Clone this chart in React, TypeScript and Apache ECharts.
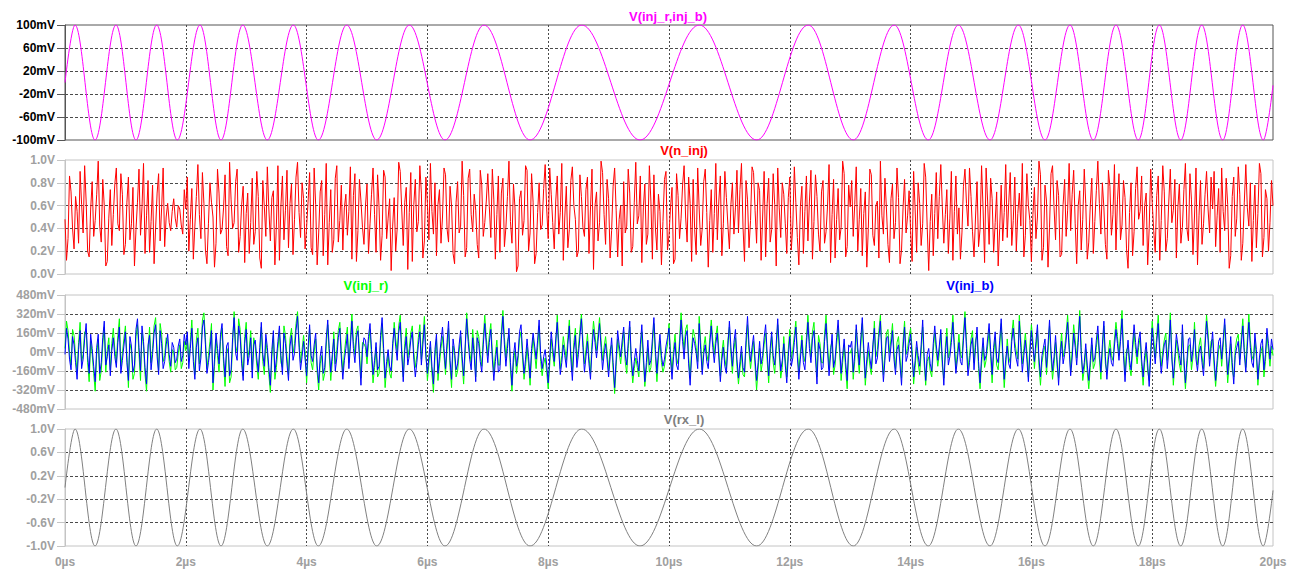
import React, { useEffect, useRef } from "react";
import * as echarts from "echarts";

// ---------- data ----------
// Times (µs) of the start, every peak/trough and the end of the chirped sine (same in V(inj_r,inj_b) and V(rx_l))
const extremaUs = [
  0, 0.166, 0.497, 0.844, 1.175, 1.518, 1.859, 2.235, 2.583, 2.942, 3.349, 3.78, 4.194, 4.664,
  5.161, 5.7, 6.291, 6.937, 7.699, 8.555, 9.52, 10.502, 11.452, 12.306, 13.051, 13.73, 14.293,
  14.79, 15.315, 15.783, 16.225, 16.639, 17.025, 17.401, 17.77, 18.118, 18.472, 18.82, 19.167,
  19.498, 19.839, 20,
];
// V(inj_r,inj_b) at those times, mV
const diffMv = [
  0, 100, -100, 100, -100, 100, -100, 100, -100, 100, -100, 100, -100, 100, -100, 100, -100, 100,
  -100, 100, -100, 100, -100, 100, -100, 100, -100, 100, -100, 100, -100, 100, -100, 100, -100, 100,
  -100, 100, -100, 100, -100, -5,
];
// V(rx_l) at those times, V
const rxV = [
  0, 1, -1, 1, -1, 1, -1, 1, -1, 1, -1, 1, -1, 1, -1, 1, -1, 1, -1, 1, -1, 1, -1, 1, -1, 1, -1, 1,
  -1, 1, -1, 1, -1, 1, -1, 1, -1, 1, -1, 1, -1, -0.05,
];

// V(n_inj), V, evenly sampled over 0..20 µs
const nInjV = [
  .48,.12,.31,.86,.72,.40,.22,.68,.55,.27,.90,.61,.36,.95,.64,.20,.15,.57,.81,.33,.47,.70,.99,.42,.28,.83,.60,.07,.11,.49,.74,.25,.52,.79,.93,.44,.38,.88,.70,.17,
  .26,.63,.85,.30,.44,.76,.07,.39,.63,.92,.34,.59,.97,.18,.51,.82,.19,.46,.78,.09,.40,.71,.88,.29,.58,.93,.24,.50,.62,.45,.38,.55,.66,.49,.41,.60,.57,.43,.35,.74,
  .57,.85,.20,.48,.75,.13,.42,.68,.96,.52,.31,.89,.62,.21,.09,.44,.80,.63,.50,.06,.27,.92,.71,.35,.39,.58,.87,.24,.16,.98,.65,.40,.45,.81,.92,.19,.33,.61,.77,.10,
  .53,.71,.18,.45,.84,.26,.37,.90,.68,.14,.05,.82,.59,.33,.94,.57,.29,.67,.73,.08,.43,.95,.12,.60,.86,.30,.56,.91,.23,.62,.79,.17,.48,.85,.98,.54,.32,.80,.66,.22,
  .41,.64,.89,.23,.17,.93,.61,.08,.36,.72,.82,.16,.52,.97,.08,.45,.74,.19,.30,.84,.95,.28,.47,.78,.21,.58,.70,.34,.55,.94,.13,.69,.88,.11,.38,.83,.64,.41,.26,.60,
  .79,.18,.44,.70,.93,.52,.19,.87,.58,.12,.34,.91,.85,.31,.49,.66,.03,.42,.67,.20,.40,.98,.90,.57,.25,.63,.76,.04,.54,.89,.11,.61,.83,.37,.46,.95,.71,.14,.29,.85,
  .62,.30,.97,.55,.35,.80,.16,.61,.74,.27,.50,.93,.87,.40,.28,.77,.60,.18,.09,.63,.81,.36,.42,.99,.69,.15,.23,.84,.92,.52,.37,.70,.56,.26,.14,.91,.78,.33,.45,.64,
  .88,.59,.32,.92,.65,.13,.52,.86,.19,.71,.84,.24,.41,.68,.99,.46,.27,.79,.58,.02,.07,.66,.73,.34,.47,.95,.91,.20,.36,.88,.63,.09,.18,.54,.80,.39,.43,.75,.96,.57,
  .31,.93,.70,.45,.22,.64,.86,.35,.54,.97,.12,.50,.77,.23,.39,.82,.94,.60,.48,.15,.20,.87,.68,.41,.33,.74,.85,.18,.57,.92,.04,.60,.72,.29,.45,.99,.89,.52,.26,.83,
  .66,.14,.38,.77,.93,.56,.15,.48,.60,.07,.81,.36,.42,.92,.71,.19,.24,.63,.98,.44,.51,.86,.10,.58,.79,.26,.35,.95,.64,.13,.87,.40,.21,.70,.55,.08,.46,.83,.90,.21,
  .34,.58,.76,.09,.13,.88,.69,.31,.49,.78,.95,.50,.28,.85,.62,.11,.83,.39,.17,.93,.57,.25,.40,.81,.92,.54,.06,.47,.74,.19,.53,.97,.30,.64,.86,.16,.44,.90,.67,.43,
  .22,.61,.80,.35,.58,.91,.36,.74,.97,.42,.11,.82,.65,.23,.47,.94,.89,.56,.27,.80,.73,.12,.50,.90,.15,.62,.84,.28,.39,.88,.61,.07,.93,.58,.32,.80,.70,.44,.18,.67,
  .85,.21,.43,.94,.63,.32,.08,.59,.77,.18,.55,.86,.29,.64,.91,.13,.46,.87,.68,.35,.20,.72,.82,.27,.37,.60,.96,.10,.52,.83,.14,.48,.75,.30,.41,.99,.88,.15,.24,.78,
  .59,.82,.33,.61,.94,.20,.48,.75,.16,.53,.72,.06,.40,.92,.87,.34,.25,.60,.64,.14,.99,.51,.35,.84,.57,.26,.10,.66,.79,.31,.45,.93,.67,.09,.21,.58,.83,.36,.51,.73,
  .38,.11,.90,.57,.19,.80,.62,.25,.44,.97,.85,.41,.03,.46,.70,.16,.53,.89,.31,.68,.96,.59,.27,.52,.74,.18,.49,.90,.12,.55,.86,.35,.58,.13,.36,.77,.92,.62,.42,.93,
  .68,.37,.15,.50,.81,.24,.39,.95,.57,.10,.93,.64,.26,.84,.66,.19,.45,.72,.07,.40,.78,.29,.54,.96,.32,.63,.89,.25,.47,.85,.20,.53,.71,.42,.97,.15,.34,.88,.60,.47,
  .11,.52,.76,.31,.50,.99,.87,.12,.23,.78,.64,.06,.41,.88,.95,.58,.30,.82,.69,.15,.17,.61,.83,.33,.56,.97,.38,.70,.91,.44,.09,.60,.73,.21,.48,.92,.62,.13,.28,.60,
  .84,.18,.46,.73,.99,.62,.35,.80,.58,.26,.13,.91,.77,.34,.52,.96,.21,.65,.88,.30,.43,.82,.67,.22,.05,.54,.80,.16,.37,.75,.94,.48,.55,.86,.25,.60,.71,.08,.40,.92,
  .63,.38,.19,.69,.86,.12,.47,.95,.72,.20,.31,.64,.92,.45,.56,.83,.14,.58,.79,.27,.41,.74,.97,.40,.29,.88,.65,.17,.50,.93,.08,.51,.82,.26,.44,.70,.90,.57,.36,.85,
  .57,.90,.24,.51,.75,.19,.93,.55,.38,.84,.61,.05,.16,.68,.85,.33,.49,.94,.70,.12,.27,.63,.96,.58,.42,.80,.11,.47,.78,.23,.53,.97,.88,.15,.32,.74,.66,.20,.45,.82,
  .60,
];

// V(inj_b), mV, evenly sampled over 0..20 µs
const injBMv = [
  -20,200,110,-60,-150,130,60,-90,-230,20,180,-140,-60,110,240,-30,-180,150,30,-120,-250,40,150,-180,-90,120,260,-110,-40,60,-200,10,120,-40,-130,80,210,-180,-70,50,
  170,-90,-240,130,50,-170,-110,190,280,40,-160,220,90,-130,-270,60,140,-150,-20,160,230,-40,-190,180,70,-140,-80,60,150,-20,-120,80,40,-90,-60,50,110,-80,-30,150,
  60,170,-140,30,200,-80,-230,40,120,-160,-50,210,270,60,-180,-90,20,180,-260,-60,160,30,-100,150,240,-40,-210,50,80,-200,-150,120,290,-10,-70,220,130,-100,-240,70,
  190,-110,-30,120,-220,60,100,-50,-170,40,250,-20,-120,150,40,-130,-280,20,180,-170,-60,90,220,-30,-190,160,70,-100,-240,50,140,-70,-10,180,300,40,-150,-40,90,-60,
  -200,40,230,-30,-80,60,160,-110,-260,-40,50,-180,-130,110,270,30,-170,-20,110,-160,-50,120,200,-50,-230,-70,30,150,-140,50,260,30,-90,120,180,-60,-280,20,120,100,
  -40,130,240,20,-190,-70,80,-150,-120,140,290,30,-220,-80,20,-120,-160,70,200,50,-70,160,250,-20,-250,10,130,-110,-30,100,170,-60,-210,-90,60,170,-110,60,230,-40,
  -180,-40,90,-120,-270,20,150,-180,-40,90,210,30,-140,80,260,-70,-230,110,10,-150,-100,60,180,-40,-200,50,280,90,-60,-150,120,-30,-250,120,70,-80,-170,60,240,60,
  -90,80,190,-60,-240,-80,40,-170,-150,110,300,60,-120,30,200,-90,-280,-30,80,-120,-30,170,230,10,-180,-60,110,-40,-220,30,160,50,-60,100,270,-20,-140,-40,20,-110,
  -260,-50,170,40,-80,110,250,10,-190,-90,60,-30,-130,60,220,-60,-240,20,140,-130,-20,130,280,40,-170,-40,90,-100,-230,20,190,80,-50,90,240,40,-150,-20,70,-60,
  -210,-40,120,-90,-300,-60,180,60,-40,100,210,-20,-110,90,260,-40,-200,-80,30,-70,-160,60,230,-10,-250,-90,100,-110,-70,110,290,20,-180,10,150,-30,-120,-60,50,120,
  200,-60,-230,-40,80,-110,-150,50,270,90,-60,130,180,-100,-280,-30,120,70,-10,-140,240,20,-190,-20,60,-80,-140,60,220,40,-90,70,160,-50,-250,-70,40,-120,-180,40,
  260,40,-120,80,190,-60,-220,-80,50,-130,-170,100,300,60,-80,40,140,-60,-240,-90,90,-100,-30,120,230,-10,-200,30,170,-30,-110,70,280,40,-160,-70,70,-110,-260,-40,
  130,-120,-50,80,210,-40,-230,-60,100,-90,-150,60,250,30,-90,110,180,-50,-270,80,20,-150,-130,90,240,10,-200,-20,150,-130,-60,120,270,50,-180,-30,110,-90,-240,60,
  40,90,-170,-20,230,40,-110,110,290,30,-220,-60,80,-50,-140,60,200,-100,-50,120,260,-40,-250,-70,120,130,-80,50,180,-60,-190,20,60,-110,-280,30,210,-80,-30,70,
  150,-40,-210,-70,90,-30,-120,60,270,-40,-240,-20,30,-100,-160,70,220,60,-70,50,190,-60,-280,-20,130,-110,-40,80,250,20,-180,-60,80,-80,-110,100,290,30,-200,-90,
  60,120,-150,40,210,-80,-260,-40,120,-70,-30,110,240,20,-190,40,170,-50,-90,100,280,10,-230,-60,50,-100,-140,90,200,30,-60,-120,260,40,-170,-30,100,-60,-250,-10,
  180,40,-80,90,230,-50,-210,-30,40,110,-130,60,270,10,-160,-40,140,-60,-280,-50,90,-100,-20,100,250,20,-200,-50,160,40,-110,80,300,-20,-180,-90,70,-110,-240,-70,
  120,-80,-50,100,220,10,-170,60,260,-40,-230,-60,30,-90,-120,50,190,70,-70,90,280,-30,-250,-40,100,-70,-150,60,230,80,-40,100,170,-60,-210,-30,80,-100,-290,-40,
  200,50,-100,80,240,-20,-180,-50,60,100,-140,20,270,-60,-220,-40,150,60,-30,-110,230,-50,-260,-70,110,120,-80,20,190,-60,-160,-10,50,-90,-200,40,260,100,-120,30,
  170,-60,-240,-70,90,120,-60,100,280,40,-190,-40,130,-90,-270,-30,40,90,-110,60,220,-20,-170,50,250,40,-90,-130,160,20,-230,-50,70,110,-150,-20,200,70,-60,110,
  20,
];

// V(inj_r), mV, evenly sampled over 0..20 µs
const injRMv = [
  30,260,180,0,-110,190,140,-30,-170,80,250,-80,-20,170,180,-90,-250,90,-20,-180,-330,-20,110,-240,-160,60,210,-170,20,120,-150,70,200,20,-90,140,280,-120,-10,110,
  220,-30,-300,70,10,-230,-180,130,230,-20,-240,160,50,-190,-330,0,210,-90,30,220,290,20,-150,240,150,-80,-30,120,90,-80,-170,20,0,-150,-130,-10,60,-140,-90,90,
  10,110,-80,90,270,-20,-190,100,200,-100,0,270,330,120,-140,-30,90,240,-320,-120,110,-30,-170,90,200,-100,-290,-10,30,-260,-210,60,340,50,0,280,190,-40,-200,130,
  250,-50,20,180,-150,120,50,-110,-230,-20,210,-80,-190,90,-10,-190,-340,-40,140,-230,-130,30,170,-90,-130,220,140,-40,-190,110,200,-10,70,240,340,100,-90,20,140,0,
  -260,-20,190,-90,-150,0,110,-170,-320,-100,-30,-240,-180,50,230,-30,-240,-80,170,-100,20,180,250,10,-170,-10,110,210,-90,110,320,90,-20,180,220,0,-220,80,70,40,
  -100,70,190,-40,-260,-130,40,-210,-180,80,240,-30,-300,-140,-20,-180,-220,10,250,110,0,220,310,40,-210,70,200,-50,30,160,220,0,-130,-30,120,230,-60,120,300,20,
  -240,-100,40,-180,-340,-40,110,-240,-100,30,130,-30,-190,20,200,-130,-300,50,-30,-210,-160,0,130,-100,-270,-10,330,150,0,-90,190,30,-210,180,130,-20,-120,120,310,120,
  -30,140,240,0,-170,-20,100,-110,-110,170,350,120,-50,90,140,-150,-330,-90,10,-180,-70,110,170,-50,-230,-120,40,-100,-280,-30,120,-10,-140,40,220,-80,-200,-100,-50,-170,
  -310,-110,110,-20,-120,50,310,70,-140,-30,130,30,-70,120,270,0,-160,80,200,-70,30,190,320,100,-100,20,150,-40,-180,80,260,140,10,150,290,100,-70,40,130,0,
  -160,20,60,-150,-350,-120,110,0,-100,40,170,-80,-180,30,210,-100,-260,-140,-50,-130,-210,0,170,-70,-290,-150,30,-170,-130,50,240,-40,-250,-50,90,-90,-170,-120,-10,60,
  240,0,-170,20,150,-50,-100,110,330,150,20,190,230,-40,-220,30,190,130,40,-80,300,80,-150,40,130,-20,-80,120,270,100,-20,130,220,10,-200,-10,100,-60,-140,100,
  210,-20,-180,20,120,-120,-270,-140,-10,-190,-210,40,230,0,-140,-20,90,-120,-320,-150,30,-160,-80,60,160,-70,-260,-30,130,-90,-180,10,230,-20,-220,-130,130,-50,-210,20,
  190,-60,20,140,260,20,-170,0,140,-30,-80,120,310,90,-40,170,250,10,-210,140,70,-90,-90,150,310,70,-140,40,90,-190,-110,60,200,-10,-240,-90,60,-150,-310,0,
  -10,30,-230,-80,190,-20,-180,50,240,-30,-280,-120,10,-110,-190,0,260,-40,20,180,310,20,-190,-10,160,190,-10,110,240,0,-140,80,130,-50,-220,90,260,-20,30,130,
  200,20,-270,-130,40,-90,-190,0,210,-100,-280,-80,-40,-160,-210,10,160,0,-120,-10,150,-120,-220,40,200,-50,10,140,310,80,-140,0,150,-20,-50,160,340,90,-140,-30,
  110,180,-90,100,150,-140,-310,-100,50,-130,-70,50,180,-40,-260,-20,120,-110,-150,40,240,-50,-300,-120,110,-40,-90,150,270,90,0,-60,310,100,-100,30,160,0,-210,50,
  230,100,-140,30,180,-110,-280,-90,0,50,-190,0,220,-50,-230,-100,80,-120,-220,10,160,-40,30,160,310,80,-160,10,230,100,-50,140,350,40,-240,-150,20,-170,-310,-130,
  60,-140,-100,40,150,-50,-230,0,220,-100,-170,0,100,-30,-70,110,250,130,-30,150,350,30,-190,20,40,-130,-200,0,160,20,-100,40,120,-120,-280,-90,20,-160,-240,20,
  260,110,-50,140,310,40,-120,10,100,160,-70,80,330,0,-280,-100,100,0,-100,-170,170,-110,-310,-130,50,60,-150,-40,250,0,-110,50,120,-30,-140,100,310,160,-60,90,
  110,-120,-290,-130,20,60,-120,40,230,-20,-260,-100,70,-150,-210,30,110,150,-60,120,280,40,-130,110,320,100,-30,-70,100,-40,-280,-110,0,50,-210,-80,150,10,-120,50,
  -30,
];

const spanUs = 20;

// ---------- styling ----------
const FONT = "'Liberation Sans', Arial, Helvetica, sans-serif";
const GRID_DOT = "#4a4a4a";

type Panel = { top: number; height: number; border: string; label: string };
const panels: Panel[] = [
  { top: 25, height: 115, border: "#555555", label: "#000000" },
  { top: 160, height: 114, border: "#c4c4c4", label: "#a0a0a0" },
  { top: 295, height: 114, border: "#c4c4c4", label: "#a0a0a0" },
  { top: 429, height: 117, border: "#c4c4c4", label: "#a0a0a0" },
];

function evenSeries(values: number[], offset = 0) {
  const step = spanUs / (values.length - 1);
  return values.map((v, i) => [i * step, v + offset]);
}

function buildOption() {
  const grid = panels.map((p) => ({
    left: 65,
    right: 23,
    top: p.top,
    height: p.height,
    show: true,
    borderColor: p.border,
    borderWidth: 1,
    backgroundColor: "#ffffff",
    containLabel: false,
  }));

  const xAxis = panels.map((p, i) => ({
    type: "value",
    gridIndex: i,
    min: 0,
    max: 20,
    interval: 2,
    axisLine: { show: false },
    axisTick: { show: false },
    axisLabel: {
      show: i === 3,
      formatter: (v: number) => `${v}µs`,
      color: "#a0a0a0",
      fontWeight: "bold",
      fontSize: 12,
      fontFamily: FONT,
      margin: 10,
      showMinLabel: true,
      showMaxLabel: true,
    },
    splitLine: {
      show: true,
      showMinLine: false,
      showMaxLine: false,
      lineStyle: { color: GRID_DOT, type: [2, 2], width: 1 },
    },
  }));

  const yCommon = (p: Panel, i: number) => ({
    type: "value",
    gridIndex: i,
    axisLine: { show: true, onZero: false, lineStyle: { color: p.border, width: 1 } },
    axisTick: { show: true, length: 8, lineStyle: { color: p.border } },
    splitLine: {
      show: true,
      showMinLine: false,
      showMaxLine: false,
      lineStyle: { color: GRID_DOT, type: [3, 2], width: 1 },
    },
  });
  const labelStyle = (p: Panel) => ({
    color: p.label,
    fontWeight: "bold",
    fontSize: 12,
    fontFamily: FONT,
    margin: 10,
    showMinLabel: true,
    showMaxLabel: true,
  });

  const yAxis = [
    {
      ...yCommon(panels[0], 0),
      // shifted by +100 mV so the ticks start at the axis minimum
      min: 0,
      max: 200,
      interval: 40,
      axisLabel: { ...labelStyle(panels[0]), formatter: (v: number) => `${Math.round(v - 100)}mV` },
    },
    {
      ...yCommon(panels[1], 1),
      min: 0,
      max: 1,
      interval: 0.2,
      axisLabel: { ...labelStyle(panels[1]), formatter: (v: number) => `${v.toFixed(1)}V` },
    },
    {
      ...yCommon(panels[2], 2),
      min: -480,
      max: 480,
      interval: 160,
      axisLabel: { ...labelStyle(panels[2]), formatter: (v: number) => `${Math.round(v)}mV` },
    },
    {
      ...yCommon(panels[3], 3),
      // shifted by +1 V so the ticks start at the axis minimum
      min: 0,
      max: 2,
      interval: 0.4,
      axisLabel: { ...labelStyle(panels[3]), formatter: (v: number) => `${(v - 1).toFixed(1)}V` },
    },
  ];

  const lineBase = {
    type: "line",
    showSymbol: false,
    symbol: "none",
    silent: true,
    animation: false,
  };

  const series = [
    {
      ...lineBase,
      name: "V(inj_r,inj_b)",
      xAxisIndex: 0,
      yAxisIndex: 0,
      smooth: 0.36,
      smoothMonotone: "x",
      data: extremaUs.map((t, i) => [t, diffMv[i] + 100]),
      lineStyle: { color: "#ff00ff", width: 1 },
      itemStyle: { color: "#ff00ff" },
    },
    {
      ...lineBase,
      name: "V(n_inj)",
      xAxisIndex: 1,
      yAxisIndex: 1,
      data: evenSeries(nInjV),
      lineStyle: { color: "#ff0000", width: 1 },
      itemStyle: { color: "#ff0000" },
    },
    {
      ...lineBase,
      name: "V(inj_r)",
      xAxisIndex: 2,
      yAxisIndex: 2,
      data: evenSeries(injRMv),
      lineStyle: { color: "#00ff00", width: 1 },
      itemStyle: { color: "#00ff00" },
    },
    {
      ...lineBase,
      name: "V(inj_b)",
      xAxisIndex: 2,
      yAxisIndex: 2,
      data: evenSeries(injBMv),
      lineStyle: { color: "#0000ff", width: 1 },
      itemStyle: { color: "#0000ff" },
    },
    {
      ...lineBase,
      name: "V(rx_l)",
      xAxisIndex: 3,
      yAxisIndex: 3,
      smooth: 0.36,
      smoothMonotone: "x",
      data: extremaUs.map((t, i) => [t, rxV[i] + 1]),
      lineStyle: { color: "#808080", width: 1 },
      itemStyle: { color: "#808080" },
    },
  ];

  const title = (text: string, x: number, y: number, fill: string) => ({
    type: "text",
    x,
    y,
    silent: true,
    style: {
      text,
      fill,
      font: `bold 13px ${FONT}`,
      align: "center",
      verticalAlign: "middle",
    },
  });

  return {
    animation: false,
    backgroundColor: "#ffffff",
    textStyle: { fontFamily: FONT },
    grid,
    xAxis,
    yAxis,
    series,
    graphic: [
      title("V(inj_r,inj_b)", 668, 16, "#ff00ff"),
      title("V(n_inj)", 684, 150, "#ff0000"),
      title("V(inj_r)", 366, 285, "#00ff00"),
      title("V(inj_b)", 970, 285, "#0000ff"),
      title("V(rx_l)", 684, 419, "#808080"),
    ],
  };
}

export default function App() {
  const ref = useRef<HTMLDivElement>(null);
  useEffect(() => {
    document.body.style.margin = "0";
    const chart = echarts.init(ref.current as HTMLDivElement, null, { renderer: "svg" });
    chart.setOption(buildOption() as any);
    return () => chart.dispose();
  }, []);
  return <div ref={ref} style={{ width: 1296, height: 569 }} />;
}
